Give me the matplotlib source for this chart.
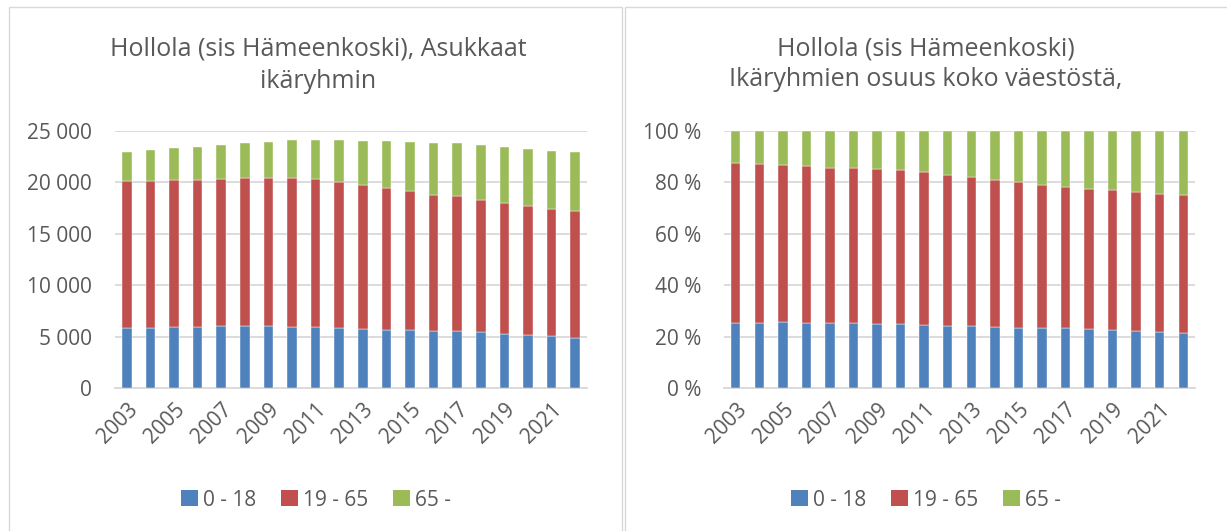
import matplotlib
matplotlib.use("Agg")
import matplotlib.pyplot as plt
from matplotlib.patches import Rectangle, Patch
from matplotlib.ticker import FuncFormatter, MultipleLocator
import numpy as np

years = list(range(2003, 2023))
age_0_18 = [5836, 5836, 5966, 5966, 5999, 5999, 5999, 5966, 5966, 5869,
            5772, 5674, 5610, 5512, 5577, 5415, 5253, 5156, 5058, 4896]
age_19_65 = [14268, 14333, 14267, 14267, 14299, 14429, 14429, 14462, 14332, 14170,
             13975, 13781, 13553, 13295, 13068, 12873, 12743, 12548, 12354, 12289]
age_65 = [2821, 2983, 3113, 3178, 3373, 3437, 3534, 3664, 3859, 4118,
          4313, 4540, 4734, 4993, 5155, 5318, 5415, 5545, 5675, 5740]
series_labels = ["0 - 18", "19 - 65", "65 -"]
colors = ["#4F81BD", "#C0504D", "#9BBB59"]
title_left = "Hollola (sis Hämeenkoski), Asukkaat\nikäryhmin"
title_right = "Hollola (sis Hämeenkoski)\nIkäryhmien osuus koko väestöstä,"

FONT = "Open Sans"
TXT = "#595959"
GRID = "#D9D9D9"
plt.rcParams["font.family"] = [FONT, "DejaVu Sans"]

W, H = 1227, 531
fig = plt.figure(figsize=(W / 100, H / 100), dpi=100)

# panel borders
fig.add_artist(Rectangle((9 / W, -0.01), (622 - 9) / W, 1 - 7 / H + 0.01, transform=fig.transFigure,
                         fill=False, edgecolor=GRID, lw=1.0))
fig.add_artist(Rectangle((625 / W, -0.01), (1240 - 625) / W, 1 - 7 / H + 0.01, transform=fig.transFigure,
                         fill=False, edgecolor=GRID, lw=1.0))

data = np.array([age_0_18, age_19_65, age_65], dtype=float)
totals = data.sum(axis=0)
shares = data / totals * 100

x = np.arange(len(years))
year_ticks = x[::2]
year_labels = [str(y) for y in years[::2]]


def setup(ax, ymax, step, fmt):
    ax.set_xlim(-0.5, len(years) - 0.5)
    ax.set_ylim(0, ymax)
    ax.yaxis.set_major_locator(MultipleLocator(step))
    ax.yaxis.set_major_formatter(FuncFormatter(fmt))
    ax.grid(axis="y", color=GRID, lw=1.3, zorder=0)
    ax.set_axisbelow(True)
    for s in ["top", "right", "left"]:
        ax.spines[s].set_visible(False)
    ax.spines["bottom"].set_color(GRID)
    ax.spines["bottom"].set_linewidth(1.3)
    ax.tick_params(axis="both", length=0, colors=TXT)
    ax.tick_params(axis="y", pad=16.5, labelsize=15)
    ax.set_xticks(year_ticks)
    ax.set_xticklabels(year_labels, rotation=45, ha="right", rotation_mode="anchor")
    ax.tick_params(axis="x", pad=8, labelsize=15)


def draw(ax, vals):
    bottom = np.zeros(len(years))
    for v, c, lab in zip(vals, colors, series_labels):
        ax.bar(x, v, width=0.4, bottom=bottom, color=c, edgecolor="white", linewidth=0.3,
               label=lab, zorder=3)
        bottom = bottom + v


axL = fig.add_axes([115 / W, (H - 388) / H, 472 / W, 257 / H])
draw(axL, data)
setup(axL, 25000, 5000, lambda v, p: f"{int(v):,}".replace(",", " "))

axR = fig.add_axes([724 / W, (H - 388) / H, 471 / W, 257 / H])
draw(axR, shares)
setup(axR, 100, 20, lambda v, p: f"{int(v)} %")

fig.text(318 / W, 1 - 65 / H, title_left, ha="center", va="center", fontsize=18,
         color=TXT, linespacing=1.4)
fig.text(926 / W, 1 - 64 / H, title_right, ha="center", va="center", fontsize=18,
         color=TXT, linespacing=1.3)

handles = [Patch(facecolor=c, edgecolor="none") for c in colors]
for cx in (316 / W, 926 / W):
    fig.legend(handles, series_labels, loc="center", bbox_to_anchor=(cx, 1 - 500 / H),
               ncol=3, frameon=False, fontsize=15, labelcolor=TXT,
               handlelength=0.8, handleheight=0.8, handletextpad=0.25, columnspacing=1.2)

fig.savefig("out.png", dpi=100)
